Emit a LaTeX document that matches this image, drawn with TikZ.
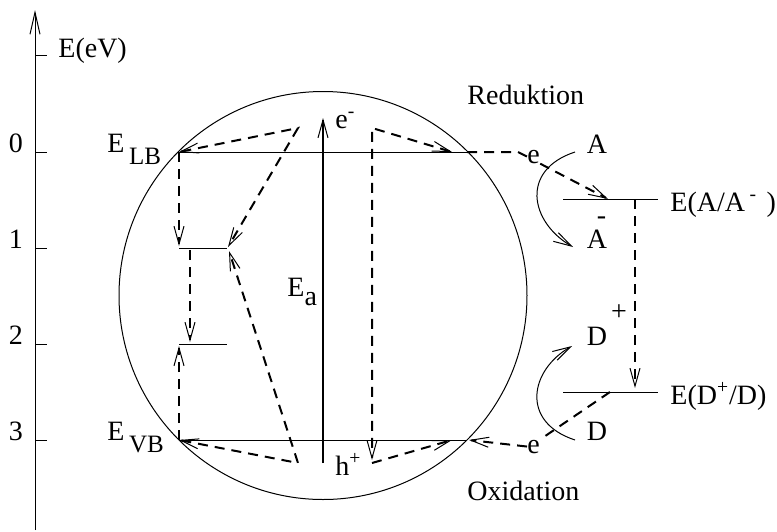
\documentclass[tikz,border=0pt]{standalone}
\usepackage{fontspec}
\setmainfont{Liberation Serif}
\usetikzlibrary{arrows.meta}
\begin{document}
\begin{tikzpicture}[x=0.5pt,y=-0.5pt,
  every node/.style={font=\fontsize{14}{16}\selectfont,inner sep=0pt},
  thin line/.style={line width=0.5pt},
  dsh/.style={line width=1pt,dash pattern=on 5pt off 3.5pt},
  barb/.style={-{Straight Barb[length=9pt,width=5pt,line width=0.5pt]}},
  twobarb/.style={{Straight Barb[length=9pt,width=5pt,line width=0.5pt]}-{Straight Barb[length=9pt,width=5pt,line width=0.5pt]}}]
  \useasboundingbox (0,0) rectangle (777,531);
  % energy axis
  \coordinate (ax0) at (35,530);
  \coordinate (ax1) at (35,10);
  \draw[thin line,-{Straight Barb[length=11pt,width=5pt,line width=0.5pt]}] (ax0)--(ax1);
  \draw[thin line] (35,55)--(47,55);
  \node[anchor=base west] (unit) at (58,57) {E(eV)};
  \foreach \y/\t in {152/0,248/1,344/2,440/3}{
    \draw[thin line] (35,\y)--(47,\y);
    \node[anchor=base] (tick\t) at (16,\y) {\t};
  }
  % semiconductor particle
  \draw[thin line] (323,295.5) circle[radius=204];
  \coordinate (lbL) at (179,152); \coordinate (lbR) at (467,152);
  \coordinate (vbL) at (179,440); \coordinate (vbR) at (467,440);
  \coordinate (t1L) at (179,248); \coordinate (t1R) at (227,248);
  \coordinate (t2L) at (179,344); \coordinate (t2R) at (227,344);
  \draw[thin line] (lbL)--(lbR);
  \draw[thin line] (vbL)--(vbR);
  \draw[thin line] (t1L)--(t1R);
  \draw[thin line] (t2L)--(t2R);
  \node[anchor=base west] (elb) at (107,152) {E\,\raisebox{-6pt}{\fontsize{12.5}{14}\selectfont LB}};
  \node[anchor=base west] (evb) at (107,440) {E\,\raisebox{-6pt}{\fontsize{12.5}{14}\selectfont VB}};
  % excitation
  \coordinate (ea0) at (323,463);
  \coordinate (ea1) at (323,118);
  \draw[line width=1pt,barb] (ea0)--(ea1);
  \node[anchor=base west] (ea) at (287,296) {E\raisebox{-4.5pt}{a}};
  \node[anchor=base west] (elec) at (335,128) {e\textsuperscript{-}};
  \node[anchor=base west] (hole) at (335,475) {h\textsuperscript{+}};
  % recombination and trapping
  \coordinate (pkA) at (298,128); \coordinate (pkB) at (298,463);
  \coordinate (pkC) at (372,128); \coordinate (pkD) at (372,463);
  \coordinate (inR) at (452,152); \coordinate (inV) at (452,440);
  \draw[dsh,twobarb] (lbL)--(pkA)--(228,247);
  \draw[dsh,twobarb] (vbL)--(pkB)--(229,251);
  \draw[dsh,twobarb] (inR)--(pkC)--(372,460);
  \draw[dsh,barb] (pkD)--(inV);
  \draw[dsh,barb] (lbL)--(179,246);
  \draw[dsh,barb] (190,250)--(190,342);
  \draw[dsh,barb] (vbL)--(179,346);
  % redox couples
  \coordinate (aL) at (563,199); \coordinate (aR) at (658,199);
  \coordinate (dL) at (563,392); \coordinate (dR) at (658,392);
  \draw[thin line] (aL)--(aR);
  \draw[thin line] (dL)--(dR);
  \node[anchor=base west] (eaa) at (670,211) {E(A/A\,\textsuperscript{-}\,\,)};
  \node[anchor=base west] (edd) at (670,404) {E(D\textsuperscript{+}/D)};
  \node[anchor=base west] (red) at (467,104) {Reduktion};
  \node[anchor=base west] (ox) at (467,500) {Oxidation};
  \node[anchor=base] (acc) at (597,153) {A};
  \node[anchor=base] (accm) at (597,248) {A\llap{\raisebox{12pt}{-\kern0.5pt}}};
  \node[anchor=base] (don) at (597,345) {D\rlap{\raisebox{12.5pt}{\kern2pt+}}};
  \node[anchor=base] (donp) at (597,440) {D};
  \node[anchor=base west] (e1) at (527,163) {e};
  \node[anchor=base west] (e2) at (527,453) {e};
  \draw[dsh] (lbR)--(518,152)--(e1.west);
  \draw[dsh,barb] (e1.south east)--(608,199);
  \draw[dsh,barb] (635,199)--(635,388);
  \draw[dsh] (610,392)--(e2.north east);
  \draw[dsh,barb] (e2.west)--(469,440);
  \draw[thin line,barb] (575,152) .. controls (520,170) and (530,222) .. (573,247);
  \draw[thin line,barb] (575,440) .. controls (520,422) and (530,370) .. (572,346);
\end{tikzpicture}
\end{document}
